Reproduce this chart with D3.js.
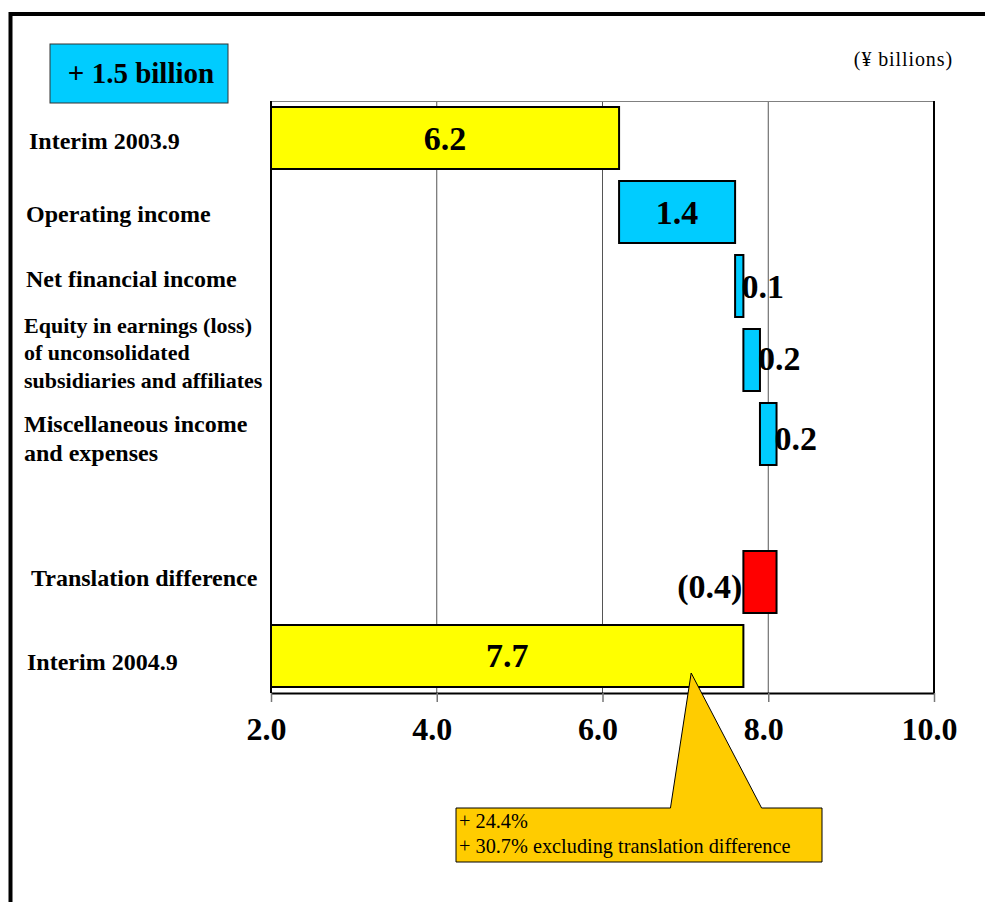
<!DOCTYPE html>
<html>
<head>
<meta charset="utf-8">
<script src="https://cdn.jsdelivr.net/npm/d3@7"></script>
<style>
  html, body { margin: 0; padding: 0; background: #fff; }
  svg { display: block; }
  text { font-family: "Liberation Serif", "Times New Roman", serif; }
</style>
</head>
<body>
<div id="chart"></div>
<script>
// ---------- data ----------
const categories = [
  "Interim 2003.9",
  "Operating income",
  "Net financial income",
  "Equity in earnings (loss) of unconsolidated subsidiaries and affiliates",
  "Miscellaneous income and expenses",
  "",
  "Translation difference",
  "Interim 2004.9"
];
const categoryLines = [
  ["Interim 2003.9"],
  ["Operating income"],
  ["Net financial income"],
  ["Equity in earnings (loss)", "of unconsolidated", "subsidiaries and affiliates"],
  ["Miscellaneous income", "and expenses"],
  [],
  ["Translation difference"],
  ["Interim 2004.9"]
];
const values = [6.2, 1.4, 0.1, 0.2, 0.2, null, -0.4, 7.7];
const kinds = ["total", "change", "change", "change", "change", "none", "change", "total"];
const valueLabels = ["6.2", "1.4", "0.1", "0.2", "0.2", "", "(0.4)", "7.7"];
const xTicks = [2.0, 4.0, 6.0, 8.0, 10.0];
const headline = "+ 1.5 billion";
const unitLabel = "(¥ billions)";
const calloutLines = ["+ 24.4%", "+ 30.7% excluding translation difference"];

// ---------- layout ----------
const W = 985, H = 902;
const plot = { left: 271, right: 934, top: 101, bottom: 693 };

const svg = d3.select("#chart").append("svg")
  .attr("width", W).attr("height", H);

// outer frame
svg.append("rect")
  .attr("x", 10.5).attr("y", 14).attr("width", 1000).attr("height", 1000)
  .attr("fill", "#fff").attr("stroke", "#000").attr("stroke-width", 4);

const x = d3.scaleLinear().domain([2, 10]).range([plot.left, plot.right]);
const y = d3.scaleBand().domain(d3.range(categories.length))
  .range([plot.top, plot.bottom])
  .paddingInner(12 / 74).paddingOuter(6 / 74);

// waterfall extents
let running = 0;
const bars = values.map((v, i) => {
  if (kinds[i] === "total") { running = v; return { i, x0: 2, x1: v, kind: "total", v }; }
  if (kinds[i] === "none") return null;
  const s = running; running = +(running + v).toFixed(4);
  return { i, x0: Math.min(s, running), x1: Math.max(s, running), kind: v < 0 ? "neg" : "pos", v };
}).filter(d => d);

const fillFor = { total: "#FFFF00", pos: "#00CCFF", neg: "#FF0000" };

// gridlines
svg.append("g").selectAll("line").data(xTicks.filter(t => t > 2 && t < 10)).join("line")
  .attr("x1", d => x(d)).attr("x2", d => x(d))
  .attr("y1", plot.top).attr("y2", plot.bottom)
  .attr("stroke", "#555").attr("stroke-width", 1);

// plot frame
svg.append("line").attr("x1", plot.left).attr("x2", plot.right)
  .attr("y1", plot.top + 0.5).attr("y2", plot.top + 0.5)
  .attr("stroke", "#808080").attr("stroke-width", 1);
svg.append("line").attr("x1", plot.right).attr("x2", plot.right)
  .attr("y1", plot.top).attr("y2", plot.bottom)
  .attr("stroke", "#000").attr("stroke-width", 2);
svg.append("line").attr("x1", plot.left).attr("x2", plot.left)
  .attr("y1", plot.top).attr("y2", plot.bottom)
  .attr("stroke", "#000").attr("stroke-width", 2);

// bars
svg.append("g").selectAll("rect").data(bars).join("rect")
  .attr("x", d => x(d.x0)).attr("width", d => x(d.x1) - x(d.x0))
  .attr("y", d => y(d.i)).attr("height", y.bandwidth())
  .attr("fill", d => fillFor[d.kind])
  .attr("stroke", "#000").attr("stroke-width", 2);

// x axis
const xAxis = d3.axisBottom(x).tickValues(xTicks).tickFormat(d3.format(".1f"))
  .tickSize(9).tickSizeOuter(0);
const gx = svg.append("g").attr("transform", `translate(0,${plot.bottom})`).call(xAxis);
gx.select(".domain").attr("stroke", "#000").attr("stroke-width", 2);
gx.selectAll(".tick line").attr("stroke", "#777").attr("stroke-width", 1.5);
gx.selectAll(".tick text")
  .attr("font-family", '"Liberation Serif", "Times New Roman", serif')
  .attr("font-weight", "bold").attr("font-size", 32).attr("fill", "#000")
  .attr("dx", -5).attr("y", 47).attr("dy", 0);

// value labels
const valueDy = [12, 12, 12, 10, 16, 0, 16, 11];
svg.append("g").selectAll("text").data(bars).join("text")
  .attr("x", d => d.kind === "total" ? x((d.x0 + d.x1) / 2) :
                  (d.i === 1 ? x((d.x0 + d.x1) / 2) :
                  (d.kind === "neg" ? x(d.x0) - 1 : x(d.x1) - 2)))
  .attr("y", d => y(d.i) + y.bandwidth() / 2 + valueDy[d.i])
  .attr("text-anchor", d => (d.kind === "total" || d.i === 1) ? "middle" : (d.kind === "neg" ? "end" : "start"))
  .attr("font-weight", "bold").attr("font-size", 34)
  .text(d => valueLabels[d.i]);

// category labels
const labelDx = [29, 26, 26, 24, 24, 0, 31, 27];
const labelDy = [3, 2, -7, -8, 4, 0, -4, 6];
const labelSize = [24, 24, 24, 22, 24, 24, 24, 24];
const lineH = [0, 0, 0, 27.5, 29, 0, 0, 0];
const catG = svg.append("g");
categoryLines.forEach((lines, i) => {
  if (!lines.length) return;
  const cy = y(i) + y.bandwidth() / 2 + labelDy[i];
  const n = lines.length;
  lines.forEach((ln, k) => {
    catG.append("text")
      .attr("x", labelDx[i])
      .attr("y", cy + 8 + (k - (n - 1) / 2) * lineH[i])
      .attr("font-weight", "bold").attr("font-size", labelSize[i])
      .text(ln);
  });
});

// headline box
svg.append("rect").attr("x", 50).attr("y", 44).attr("width", 178).attr("height", 59)
  .attr("fill", "#00CCFF").attr("stroke", "#333").attr("stroke-width", 1);
svg.append("text").attr("x", 141).attr("y", 83).attr("text-anchor", "middle")
  .attr("font-weight", "bold").attr("font-size", 29).text(headline);

// unit label
svg.append("text").attr("x", 953).attr("y", 66).attr("text-anchor", "end")
  .attr("font-size", 20).attr("letter-spacing", 0.9).text(unitLabel);

// callout
const tipX = x(7.07), tipY = y(7) + 48;
const box = { x0: 456, x1: 822, y0: 808, y1: 862 };
const wedgeL = x(6.82), wedgeR = x(7.92);
const p = d3.path();
p.moveTo(box.x0, box.y0); p.lineTo(wedgeL, box.y0); p.lineTo(tipX, tipY);
p.lineTo(wedgeR, box.y0); p.lineTo(box.x1, box.y0); p.lineTo(box.x1, box.y1);
p.lineTo(box.x0, box.y1); p.closePath();
svg.append("path").attr("d", p.toString())
  .attr("fill", "#FFCC00").attr("stroke", "#000").attr("stroke-width", 1);
calloutLines.forEach((t, k) => {
  svg.append("text").attr("x", 459).attr("y", 828 + k * 25)
    .attr("font-size", 20.3).text(t);
});
</script>
</body>
</html>
